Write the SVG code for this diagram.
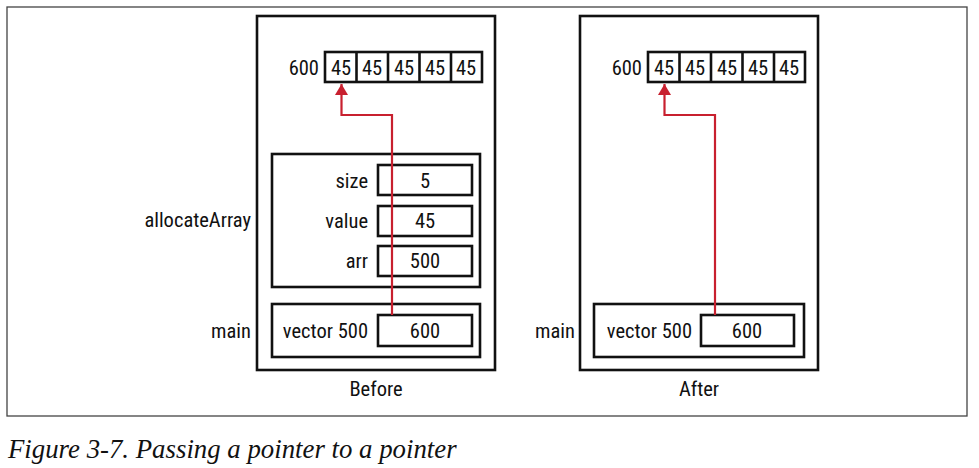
<svg xmlns="http://www.w3.org/2000/svg" width="979" height="468" viewBox="0 0 979 468">
<style>
.box{fill:#fff;stroke:#111;stroke-width:2.6}
.t{font-family:"Roboto Condensed","Liberation Sans Narrow","Liberation Sans",sans-serif;font-size:20.5px;fill:#111}
.m{text-anchor:middle}
.e{text-anchor:end}
.ptr{fill:none;stroke:#c8202f;stroke-width:2.2}
.cap{font-family:"Liberation Serif",serif;font-style:italic;font-size:26.8px;fill:#111}
</style>
<defs>
<marker id="ah" markerWidth="11" markerHeight="13" refX="11" refY="6.5" orient="auto" markerUnits="userSpaceOnUse" viewBox="0 0 11 13" overflow="visible">
<path d="M0,0 L11,6.5 L0,13 Z" fill="#c8202f"/>
</marker>
</defs>
<rect width="979" height="468" fill="#fff"/>
<rect x="7" y="7" width="960" height="409" fill="none" stroke="#444" stroke-width="1.3"/>

<g id="before">
<rect class="box" x="257" y="16" width="238" height="354"/>
<text class="t m" x="376" y="396">Before</text>
</g>
<g id="before-array">
<text class="t e" x="319" y="75">600</text>
<rect class="box" x="325" y="52" width="157" height="30"/>
<line x1="356.5" y1="52" x2="356.5" y2="82" stroke="#111" stroke-width="2.6"/>
<line x1="388" y1="52" x2="388" y2="82" stroke="#111" stroke-width="2.6"/>
<line x1="419.5" y1="52" x2="419.5" y2="82" stroke="#111" stroke-width="2.6"/>
<line x1="451" y1="52" x2="451" y2="82" stroke="#111" stroke-width="2.6"/>
<text class="t m" x="341" y="75">45</text>
<text class="t m" x="372" y="75">45</text>
<text class="t m" x="404" y="75">45</text>
<text class="t m" x="435" y="75">45</text>
<text class="t m" x="466" y="75">45</text>
</g>
<g id="allocateArray">
<text class="t e" x="251" y="227">allocateArray</text>
<rect class="box" x="272" y="154" width="208" height="133"/>
<text class="t e" x="368" y="188">size</text>
<rect class="box" x="378" y="165" width="94" height="30"/>
<text class="t m" x="425" y="188">5</text>
<text class="t e" x="368" y="228">value</text>
<rect class="box" x="378" y="206" width="94" height="30"/>
<text class="t m" x="425" y="228">45</text>
<text class="t e" x="368" y="268">arr</text>
<rect class="box" x="378" y="246" width="94" height="30"/>
<text class="t m" x="425" y="268">500</text>
</g>
<g id="before-main">
<text class="t e" x="251" y="338">main</text>
<rect class="box" x="272" y="304" width="208" height="53"/>
<text class="t e" x="368" y="338">vector 500</text>
<rect class="box" x="378" y="315" width="94" height="31"/>
<text class="t m" x="425" y="338">600</text>
</g>

<g id="after">
<rect class="box" x="580" y="16" width="238" height="354"/>
<text class="t m" x="699" y="396">After</text>
</g>
<g id="after-array">
<text class="t e" x="642" y="75">600</text>
<rect class="box" x="648" y="52" width="157" height="30"/>
<line x1="679.5" y1="52" x2="679.5" y2="82" stroke="#111" stroke-width="2.6"/>
<line x1="711" y1="52" x2="711" y2="82" stroke="#111" stroke-width="2.6"/>
<line x1="742.5" y1="52" x2="742.5" y2="82" stroke="#111" stroke-width="2.6"/>
<line x1="774" y1="52" x2="774" y2="82" stroke="#111" stroke-width="2.6"/>
<text class="t m" x="664" y="75">45</text>
<text class="t m" x="695" y="75">45</text>
<text class="t m" x="727" y="75">45</text>
<text class="t m" x="758" y="75">45</text>
<text class="t m" x="789" y="75">45</text>
</g>
<g id="after-main">
<text class="t e" x="575" y="338">main</text>
<rect class="box" x="594" y="304" width="210" height="53"/>
<text class="t e" x="692" y="338">vector 500</text>
<rect class="box" x="701" y="315" width="93" height="31"/>
<text class="t m" x="747" y="338">600</text>
</g>

<g id="connectors">
<path class="ptr" d="M392,315 V115 H341.5 V84" marker-end="url(#ah)"/>
<path class="ptr" d="M715,315 V115 H664.5 V84" marker-end="url(#ah)"/>
</g>

<text class="cap" x="8" y="458">Figure 3-7. Passing a pointer to a pointer</text>
</svg>
